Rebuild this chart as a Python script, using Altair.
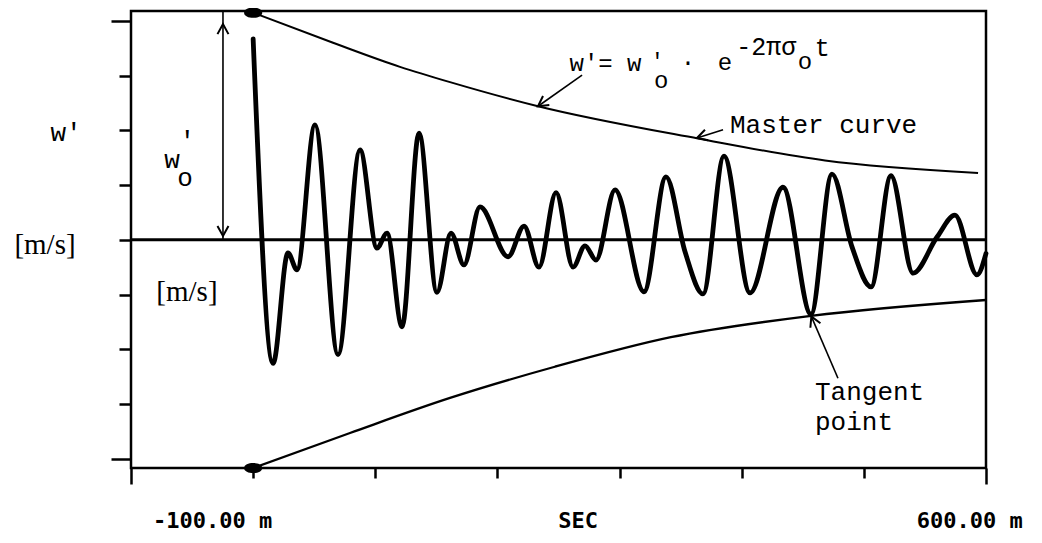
import altair as alt
import pandas as pd

# ---- oscillating signal (t in ms, w' in axis units) ----
sig_t = [0, 16.3, 28.5, 35.9, 50.6, 69.5, 87.5, 101.4, 109.6, 121.9,
         135.8, 150.5, 162.0, 172.6, 185.7, 208.7, 221.8, 234.0, 248.0, 261.9,
         271.7, 280.7, 296.3, 320.0, 338.0, 353.6, 368.3, 385.5, 406.8, 433.8,
         456.7, 473.9, 490.3, 505.9, 522.2, 540.3, 559.9, 574.6, 592.6, 600]
sig_w = [3.67, -2.26, -0.24, -0.55, 2.10, -2.10, 1.64, -0.15, 0.12, -1.59,
         1.95, -0.96, 0.12, -0.46, 0.60, -0.31, 0.25, -0.50, 0.86, -0.50,
         -0.11, -0.37, 0.91, -0.95, 1.15, -0.22, -0.99, 1.53, -0.97, 0.96,
         -1.36, 1.20, -0.13, -0.86, 1.17, -0.61, 0.05, 0.45, -0.64, -0.25]

# ---- envelopes ----
upper_t = [0, 65.4, 120.2, 161.2, 233.2, 364.2, 468.2, 593.5]
upper_w = [4.15, 3.60, 3.16, 2.88, 2.44, 1.85, 1.45, 1.22]
lower_t = [0, 79.3, 161.2, 247.0, 342.0, 456.7, 600]
lower_w = [-4.17, -3.53, -2.89, -2.32, -1.78, -1.39, -1.10]

# ---- end dots of the envelopes ----
dot_t = [0, 0]
dot_w = [4.15, -4.17]

# ---- annotation arrows (tail -> tip) ----
arr_t1 = [269.3, 384.7, 478.8, -24.7]
arr_w1 = [3.01, 2.01, -2.53, 4.17]
arr_t2 = [233.2, 363.4, 457.0, -24.7]
arr_w2 = [2.44, 1.86, -1.40, 0.0]
head_t = [233.2, 363.4, 457.0, -24.7, -24.7]
head_w = [2.44, 1.86, -1.40, 3.94, 0.07]
head_angle = [235, 253, 336, 0, 180]

# ---- axis ticks ----
x_ticks = [-100, 0, 100, 200, 300, 400, 500, 600]
y_ticks = [-4, -3, -2, -1, 0, 1, 2, 3, 4]

# ---- texts ----
wlab_text = ["w'", "w", "'", "o"]
wlab_t = [-153.2, -66.4, -54.0, -55.8]
wlab_w = [1.95, 1.46, 1.80, 1.13]

tw_text = ["o", "·", "e", "o"]
tw_t = [334.0, 356.0, 386.3, 451.8]
tw_w = [2.90, 3.23, 3.23, 3.25]

formula_text = ["w'= w"]
formula_t = [259.0]
formula_w = [3.21]

prime_text = ["'"]
prime_t = [331.0]
prime_w = [3.27]

sup_text = ["-2πσ"]
sup_t = [395.5]
sup_w = [3.52]
sup2_text = ["t"]
sup2_t = [466.0]
sup2_w = [3.50]

big_text = ["Master curve", "Tangent", "point"]
big_t = [390.4, 460.0, 460.0]
big_w = [2.10, -2.78, -3.33]

unit_text = ["[m/s]", "[m/s]"]
unit_t = [-170.4, -54.2]
unit_w = [-0.10, -0.95]

bot_l_text = ["-100.00 m"]
bot_l_t = [-82]
bot_c_text = ["SEC"]
bot_c_t = [266]
bot_r_text = ["600.00 m"]
bot_r_t = [630]
bot_w = [-5.14]

TYPE = "Liberation Mono"

X = alt.X("t:Q",
          scale=alt.Scale(domain=[-100, 600], nice=False, zero=False),
          axis=alt.Axis(values=x_ticks, labels=False, title=None, domain=False, grid=False,
                        tickColor="black", tickWidth=2.5,
                        tickSize={"condition": {"test": "datum.value == -100 || datum.value == 600", "value": 16}, "value": 10}))
Y = alt.Y("w:Q",
          scale=alt.Scale(domain=[-4.17, 4.18], nice=False, zero=False),
          axis=alt.Axis(values=y_ticks, labels=False, title=None, domain=False, grid=False,
                        tickColor="black", tickWidth=2.5,
                        tickSize={"condition": {"test": "abs(datum.value) == 4", "value": 20}, "value": 12}))

sig = pd.DataFrame({"t": sig_t, "w": sig_w})
up = pd.DataFrame({"t": upper_t, "w": upper_w})
lo = pd.DataFrame({"t": lower_t, "w": lower_w})
dots = pd.DataFrame({"t": dot_t, "w": dot_w})
arrows = pd.DataFrame({"t": arr_t1, "w": arr_w1, "t2": arr_t2, "w2": arr_w2})
heads = pd.DataFrame({"t": head_t, "w": head_w, "a": head_angle})

zero = alt.Chart(pd.DataFrame({"w": [0]})).mark_rule(color="black", strokeWidth=3).encode(y=Y)

signal = alt.Chart(sig).mark_line(color="black", strokeWidth=4.8, interpolate="monotone",
                                   strokeCap="round", strokeJoin="round").encode(x=X, y=Y, order="t:Q")
upper = alt.Chart(up).mark_line(color="black", strokeWidth=2, interpolate="monotone").encode(x=X, y=Y)
lower = alt.Chart(lo).mark_line(color="black", strokeWidth=2.3, interpolate="monotone").encode(x=X, y=Y)

ellipse = "M-1,0C-1,-0.75,1,-0.75,1,0C1,0.75,-1,0.75,-1,0Z"
dot_layer = alt.Chart(dots).mark_point(shape=ellipse, filled=True, color="black", size=330,
                                       opacity=1).encode(x=X, y=Y)

arrow_layer = alt.Chart(arrows).mark_rule(color="black", strokeWidth=1.6).encode(
    x=X, y=Y, x2="t2:Q", y2="w2:Q")
vee = "M-0.55,1L0,0L0.55,1"
head_layer = alt.Chart(heads).mark_point(shape=vee, filled=False, color="black", size=400,
                                         strokeWidth=2, opacity=1).encode(
    x=X, y=Y, angle=alt.Angle("a:Q", scale=None))


def texts(t, w, labels, font, size, align, weight="normal"):
    df = pd.DataFrame({"t": t, "w": w, "label": labels})
    return alt.Chart(df).mark_text(font=font, fontSize=size, fontWeight=weight, color="black",
                                   baseline="middle", align=align).encode(
        x=X, y=Y, text="label:N")


layers = [
    zero, upper, lower, signal, dot_layer, arrow_layer, head_layer,
    texts(wlab_t, wlab_w, wlab_text, TYPE, 26, "center"),
    texts(tw_t, tw_w, tw_text, TYPE, 24, "center"),
    texts(formula_t, formula_w, formula_text, TYPE, 24, "left"),
    texts(prime_t, prime_w, prime_text, TYPE, 22, "center"),
    texts(sup_t, sup_w, sup_text, TYPE, 25, "left"),
    texts(sup2_t, sup2_w, sup2_text, TYPE, 25, "center"),
    texts(big_t, big_w, big_text, TYPE, 26, "left"),
    texts(unit_t, unit_w, unit_text, "Liberation Serif", 29, "center"),
    texts(bot_l_t, bot_w, bot_l_text, "DejaVu Sans Mono", 22, "left", "bold"),
    texts(bot_c_t, bot_w, bot_c_text, "DejaVu Sans Mono", 22, "center", "bold"),
    texts(bot_r_t, bot_w, bot_r_text, "DejaVu Sans Mono", 22, "right", "bold"),
]

chart = alt.layer(*layers).properties(
    width=855, height=457,
    padding={"left": 123, "top": 3, "right": 48, "bottom": 66},
    autosize=alt.AutoSizeParams(type="none"),
    background="white",
).configure_view(stroke="black", strokeWidth=2.5)

chart.save("out.html", embed_options={"renderer": "svg", "actions": False})
